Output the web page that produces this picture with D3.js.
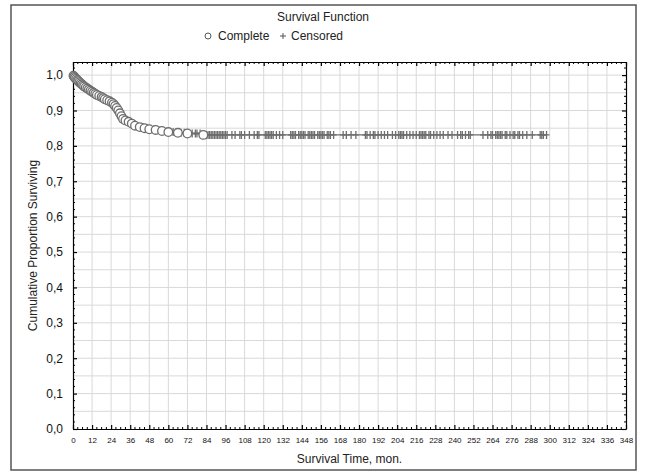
<!DOCTYPE html>
<html>
<head>
<meta charset="utf-8">
<script src="https://cdn.jsdelivr.net/npm/d3@7"></script>
<style>
  body { margin: 0; background: #fff; }
  svg { font-family: "Liberation Sans", Arial, sans-serif; }
</style>
</head>
<body>
<svg id="chart" width="646" height="474"></svg>
<script>
// complete (event) times, months, and cumulative proportion surviving
const completeTime = [0.3, 0.8, 1.3, 2, 2.7, 3.3, 4, 4.8, 5.5, 6.3, 7, 8, 9, 10, 11, 12, 13, 14, 15, 16.5,
  18, 19, 20, 21.5, 23, 24.5, 25.5, 26.5, 27.5, 28.5, 29.5, 30.5, 31.5, 33, 35, 37, 39, 42, 45, 48,
  52, 56, 60, 66, 72, 82];
const completeSurv = [0.998, 0.995, 0.992, 0.989, 0.986, 0.983, 0.980, 0.977, 0.974, 0.971, 0.968, 0.965, 0.962, 0.959, 0.956, 0.953, 0.950, 0.947, 0.944, 0.941,
  0.938, 0.935, 0.932, 0.929, 0.926, 0.922, 0.918, 0.913, 0.907, 0.900, 0.892, 0.884, 0.876, 0.872, 0.868, 0.863, 0.857, 0.853, 0.850, 0.847,
  0.845, 0.842, 0.839, 0.837, 0.835, 0.831];

// censored times, months
const censoredTime = [40, 44, 47, 51, 54, 57, 63, 65, 68, 70, 75, 77, 78, 80,
  84, 85, 86, 87, 88, 89, 90, 91, 92, 93, 94, 95, 96, 97, 100, 102, 105, 106, 108, 111, 114, 116, 117,
  121, 122, 123, 124, 125, 126, 128, 130, 132, 137, 138, 139, 140, 142, 143, 144, 145, 146, 148, 149, 150,
  151, 152, 154, 155, 156, 157, 158, 160, 161, 162, 164, 170, 172, 175, 178, 184, 185, 187, 189, 190, 192,
  194, 196, 198, 201, 203, 205, 206, 207, 208, 210, 212, 214, 216, 218, 219, 220, 221, 222, 224, 225, 227,
  229, 231, 233, 236, 238.5, 242, 244, 245, 247, 249, 250, 258, 261, 263, 264, 266, 267, 268, 269, 270,
  272, 273, 275, 277, 278, 280, 281, 283, 285.6, 289, 294, 295, 296, 298];

const xTicks = d3.range(0, 349, 12);
const yTicks = [0, 0.1, 0.2, 0.3, 0.4, 0.5, 0.6, 0.7, 0.8, 0.9, 1.0];

const svg = d3.select("#chart");
const plot = { left: 73, right: 626, top: 62, bottom: 429 };

// outer frame
svg.append("rect")
  .attr("x", 11).attr("y", 5).attr("width", 625).attr("height", 465)
  .attr("fill", "#fff").attr("stroke", "#555").attr("stroke-width", 1.5);

const x = d3.scaleLinear().domain([0, 348]).range([plot.left, plot.right]);
const y = d3.scaleLinear().domain([0, 1.037]).range([plot.bottom, plot.top]);

// grid
const g = svg.append("g");
g.selectAll(".vg").data(xTicks.slice(1, -1)).join("line")
  .attr("x1", d => x(d)).attr("x2", d => x(d))
  .attr("y1", plot.top).attr("y2", plot.bottom)
  .attr("stroke", "#d9d9d9").attr("stroke-width", 1);
g.selectAll(".hg").data(d3.range(0.05, 1.04, 0.05)).join("line")
  .attr("x1", plot.left).attr("x2", plot.right)
  .attr("y1", d => y(d)).attr("y2", d => y(d))
  .attr("stroke", "#d9d9d9").attr("stroke-width", 1);

// axes
const fmt = d => d3.format(".1f")(d).replace(".", ",");
const yAxis = svg.append("g").attr("transform", `translate(${plot.left},0)`)
  .call(d3.axisLeft(y).tickValues(yTicks).tickFormat(fmt).tickSizeInner(-4).tickSizeOuter(0).tickPadding(10));
yAxis.selectAll("text").attr("font-size", 12).attr("fill", "#111");

const xAxis = svg.append("g").attr("transform", `translate(0,${plot.bottom})`)
  .call(d3.axisBottom(x).tickValues(xTicks).tickFormat(d3.format("d")).tickSizeInner(-4).tickSizeOuter(0).tickPadding(8));
xAxis.selectAll("text").attr("font-size", 8).attr("fill", "#111");

// mirrored axes on top and right
svg.append("g").attr("transform", `translate(0,${plot.top})`)
  .call(d3.axisTop(x).tickValues(xTicks).tickFormat("").tickSizeInner(-4).tickSizeOuter(0));
svg.append("g").attr("transform", `translate(${plot.right},0)`)
  .call(d3.axisRight(y).tickValues(yTicks).tickFormat("").tickSizeInner(-4).tickSizeOuter(0));

// minor ticks
const minorX = d3.range(0, 348.1, 3).filter(d => d % 12 !== 0);
const minorY = d3.range(0, 1.03, 0.02).filter(d => Math.abs(d * 10 - Math.round(d * 10)) > 1e-6);
const mt = svg.append("g").attr("stroke", "#000").attr("stroke-width", 1);
mt.selectAll(".mxb").data(minorX).join("line")
  .attr("x1", d => x(d)).attr("x2", d => x(d)).attr("y1", plot.bottom).attr("y2", plot.bottom - 2);
mt.selectAll(".mxt").data(minorX).join("line")
  .attr("x1", d => x(d)).attr("x2", d => x(d)).attr("y1", plot.top).attr("y2", plot.top + 2);
mt.selectAll(".myl").data(minorY).join("line")
  .attr("x1", plot.left).attr("x2", plot.left + 2).attr("y1", d => y(d)).attr("y2", d => y(d));
mt.selectAll(".myr").data(minorY).join("line")
  .attr("x1", plot.right).attr("x2", plot.right - 2).attr("y1", d => y(d)).attr("y2", d => y(d));

svg.selectAll(".domain").attr("stroke", "#000").attr("stroke-width", 1.2);
svg.selectAll(".tick line").attr("stroke", "#000").attr("stroke-width", 1.2);

// survival value at a censored time (step curve from completes)
const survAt = t => {
  const i = d3.bisectRight(completeTime, t);
  return i === 0 ? 1 : completeSurv[i - 1];
};
const complete = completeTime.map((t, i) => ({ t, s: completeSurv[i] }));
const censored = censoredTime.map(t => ({ t, s: survAt(t) }));
const all = [{ t: 0, s: 1 }].concat(complete, censored).sort((a, b) => a.t - b.t);

// curve
svg.append("path").datum(all)
  .attr("fill", "none").attr("stroke", "#6e6e6e").attr("stroke-width", 1.3)
  .attr("d", d3.line().x(d => x(d.t)).y(d => y(d.s)));

// censored marks
svg.append("g").selectAll("path").data(censored).join("path")
  .attr("d", d => `M${x(d.t) - 3},${y(d.s)}h6M${x(d.t)},${y(d.s) - 4}v8`)
  .attr("stroke", "#6e6e6e").attr("stroke-width", 1.3).attr("fill", "none");

// complete marks
svg.append("g").selectAll("circle").data(complete).join("circle")
  .attr("cx", d => x(d.t)).attr("cy", d => y(d.s)).attr("r", 4.3)
  .attr("fill", "#fff").attr("stroke", "#6e6e6e").attr("stroke-width", 1.3);

// titles
svg.append("text").attr("x", 323).attr("y", 21).attr("text-anchor", "middle")
  .attr("font-size", 12).attr("fill", "#222").text("Survival Function");
const leg = svg.append("g").attr("transform", "translate(0,40)");
leg.append("circle").attr("cx", 208).attr("cy", -4).attr("r", 3)
  .attr("fill", "#fff").attr("stroke", "#555").attr("stroke-width", 1);
leg.append("text").attr("x", 218).attr("y", 0).attr("font-size", 12).attr("fill", "#222").text("Complete");
leg.append("path").attr("d", "M280,-4h6M283,-7v6").attr("stroke", "#555").attr("stroke-width", 1);
leg.append("text").attr("x", 291).attr("y", 0).attr("font-size", 12).attr("fill", "#222").text("Censored");

svg.append("text").attr("x", (plot.left + plot.right) / 2).attr("y", 463).attr("text-anchor", "middle")
  .attr("font-size", 12).attr("fill", "#222").text("Survival Time, mon.");
svg.append("text").attr("transform", `translate(37,${(plot.top + plot.bottom) / 2}) rotate(-90)`)
  .attr("text-anchor", "middle").attr("font-size", 12).attr("fill", "#222").text("Cumulative Proportion Surviving");
</script>
</body>
</html>
